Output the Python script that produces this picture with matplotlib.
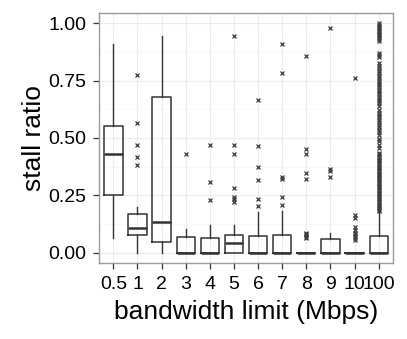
import matplotlib
matplotlib.use("Agg")
import matplotlib.pyplot as plt

plt.rcParams["font.family"] = ["Liberation Sans", "DejaVu Sans"]

# bandwidth limit categories and box statistics
labels = ["0.5", "1", "2", "3", "4", "5", "6", "7", "8", "9", "10", "100"]
q1 = [0.251, 0.077, 0.045, 0.0, 0.0, 0.0, 0.0, 0.0, 0.0, 0.0, 0.0, 0.0]
med = [0.430, 0.108, 0.132, 0.0, 0.0, 0.044, 0.0, 0.0, 0.0, 0.0, 0.0, 0.0]
q3 = [0.552, 0.169, 0.680, 0.070, 0.065, 0.076, 0.073, 0.076, 0.0, 0.058, 0.0, 0.071]
whislo = [0.064, 0.0, 0.0, 0.0, 0.0, 0.0, 0.0, 0.0, 0.0, 0.0, 0.0, 0.0]
whishi = [0.908, 0.198, 0.946, 0.102, 0.122, 0.119, 0.176, 0.180, 0.0, 0.084, 0.0, 0.176]

fliers = [
    [],
    [0.773, 0.565, 0.468, 0.416, 0.384],
    [],
    [0.430],
    [0.469, 0.310, 0.228],
    [0.943, 0.469, 0.432, 0.283, 0.245, 0.232, 0.221],
    [0.664, 0.465, 0.372, 0.315, 0.235, 0.202],
    [0.911, 0.783, 0.331, 0.322, 0.244, 0.209],
    [0.855, 0.451, 0.429, 0.347, 0.321, 0.088, 0.082, 0.076, 0.070, 0.064],
    [0.981, 0.363, 0.356, 0.330],
    [0.762, 0.165, 0.152, 0.113, 0.099, 0.088, 0.080, 0.072, 0.063, 0.055],
    [1.000, 0.992, 0.985, 0.977, 0.970, 0.962, 0.955, 0.947, 0.938, 0.930, 0.922,
     0.872, 0.862, 0.851, 0.826, 0.815, 0.804, 0.793, 0.784,
     0.772, 0.760, 0.750, 0.740, 0.731, 0.722,
     0.708, 0.700, 0.690, 0.680, 0.671, 0.662, 0.652, 0.640,
     0.622, 0.610, 0.600, 0.590, 0.580, 0.568, 0.558, 0.547, 0.535, 0.524, 0.515,
     0.497, 0.487, 0.470, 0.457,
     0.435, 0.428, 0.420, 0.412, 0.405, 0.398, 0.390, 0.383, 0.375, 0.368,
     0.360, 0.352, 0.345, 0.338, 0.330, 0.322, 0.315, 0.308, 0.300, 0.292,
     0.285, 0.278, 0.270, 0.262, 0.255, 0.248, 0.240, 0.232, 0.225, 0.218,
     0.210, 0.202, 0.195, 0.188, 0.180],
]

stats = []
for i, lab in enumerate(labels):
    stats.append(dict(label=lab, q1=q1[i], med=med[i], q3=q3[i],
                      whislo=whislo[i], whishi=whishi[i], fliers=fliers[i]))

fig = plt.figure(figsize=(4.07, 3.39), dpi=100)
ax = fig.add_axes([0.243, 0.224, 0.723, 0.738])

line_col = "#333333"
ax.bxp(stats, positions=range(len(labels)), widths=0.76,
       boxprops=dict(color=line_col, linewidth=1.1),
       medianprops=dict(color=line_col, linewidth=1.8),
       whiskerprops=dict(color=line_col, linewidth=1.0),
       capprops=dict(linewidth=0),
       flierprops=dict(marker="x", markersize=3.5, markeredgecolor="#3a3a3a",
                       markeredgewidth=0.9, linestyle="none"),
       zorder=3)

ax.set_xlim(-0.6, len(labels) - 0.4)
ax.set_ylim(-0.045, 1.045)
ax.set_yticks([0.0, 0.25, 0.5, 0.75, 1.0])
ax.set_yticklabels(["0.00", "0.25", "0.50", "0.75", "1.00"])
ax.set_yticks([0.125, 0.375, 0.625, 0.875], minor=True)
ax.set_xticks(range(len(labels)))
ax.set_xticklabels(labels)

ax.grid(True, which="major", color="#ebebeb", linewidth=0.8, zorder=0)
ax.grid(True, which="minor", axis="y", color="#f5f5f5", linewidth=0.5, zorder=0)
ax.set_axisbelow(True)
ax.tick_params(axis="y", which="minor", length=0)
ax.tick_params(which="major", length=4, width=0.9, color="#333333",
               labelsize=14, labelcolor="black")
ax.tick_params(axis="y", pad=5)
ax.tick_params(axis="x", pad=5)
for s in ax.spines.values():
    s.set_color("#9a9a9a")
    s.set_linewidth(1.0)

ax.set_xlabel("bandwidth limit (Mbps)", fontsize=19, labelpad=5)
ax.set_ylabel("stall ratio", fontsize=19, labelpad=2)

fig.savefig("out.png", dpi=100)
